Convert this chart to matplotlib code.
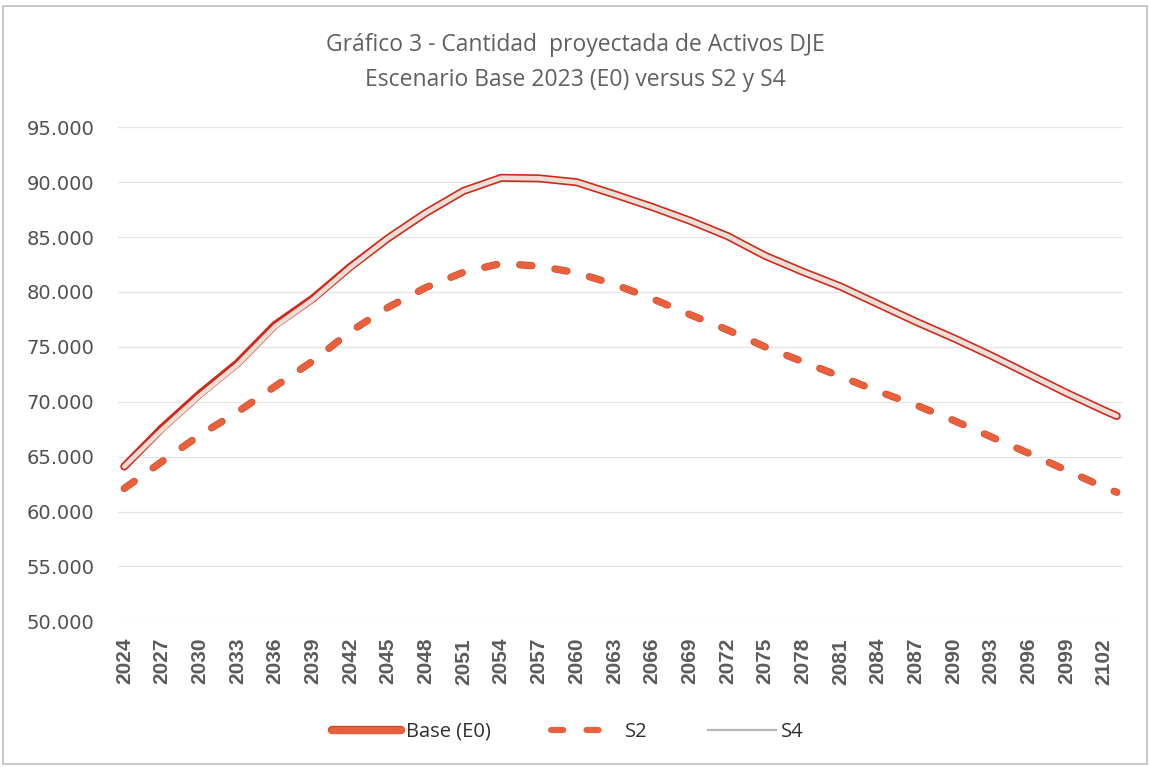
import numpy as np
import matplotlib as mpl
import matplotlib.pyplot as plt
from matplotlib.lines import Line2D
from matplotlib.patches import Rectangle
from matplotlib.ticker import FuncFormatter
import matplotlib.patheffects as pe

# values read at every labelled year, plus the final year 2103
years = list(range(2024, 2103, 3)) + [2103]
tick_years = list(range(2024, 2103, 3))

base_e0 = [64100, 67600, 70700, 73500, 77000, 79400, 82300, 84900, 87200,
           89200, 90400, 90350, 90000, 88900, 87750, 86500, 85100, 83300,
           81850, 80500, 78900, 77300, 75800, 74200, 72500, 70800, 69200, 68700]
s2 = [62100, 64550, 66950, 69050, 71400, 73700, 76400, 78600, 80400,
      81800, 82600, 82350, 81750, 80700, 79400, 77950, 76550, 75000,
      73650, 72300, 70950, 69700, 68300, 66800, 65300, 63750, 62200, 61750]
s4 = [64100, 67450, 70550, 73350, 76850, 79300, 82250, 84900, 87200,
      89200, 90400, 90350, 90000, 88900, 87750, 86500, 85100, 83300,
      81850, 80500, 78900, 77300, 75800, 74200, 72500, 70800, 69200, 68700]

title = 'Gráfico 3 - Cantidad  proyectada de Activos DJE\nEscenario Base 2023 (E0) versus S2 y S4'

fig = plt.figure(figsize=(11.5, 7.67), dpi=100)
ax = fig.add_axes([0.1026, 0.19, 0.874, 0.644])

red_edge = '#d0291b'
orange = '#e9603d'

ax.plot(years, base_e0, color=red_edge, lw=5.8, solid_capstyle='round', zorder=3)
ax.plot(years, s4, color='#eadfd6', lw=3.4, solid_capstyle='round', zorder=4)
ax.plot(years, s2, color=orange, lw=4.4, dashes=(2.0, 3.8), dash_capstyle='round',
        zorder=3, path_effects=[pe.Stroke(linewidth=5.2, foreground='#d4461f'), pe.Normal()])

ax.set_xlim(2024 - 0.5, 2103 + 0.5)
ax.set_ylim(50000, 95000)
ax.set_yticks(np.arange(50000, 95001, 5000))
ax.yaxis.set_major_formatter(FuncFormatter(lambda v, p: f'{v:,.0f}'.replace(',', '.')))
ax.set_xticks(tick_years)
ax.set_xticklabels([str(y) for y in tick_years], rotation=90,
                   family='Liberation Sans', fontweight='bold')

ax.grid(axis='y', color='#e4e4e4', lw=0.9)
ax.set_axisbelow(True)
for s in ax.spines.values():
    s.set_visible(False)
ax.tick_params(axis='y', length=0, pad=17, labelsize=14, labelcolor='#505050')
ax.tick_params(axis='x', length=0, pad=12, labelsize=15, labelcolor='#5a5a5a')

fig.text(0.5, 0.918, title, ha='center', va='center', fontsize=16.5,
         color='#606060', family='Open Sans', linespacing=1.6)

handles = [
    Line2D([], [], color=orange, lw=5, solid_capstyle='round',
           path_effects=[pe.Stroke(linewidth=6, foreground='#d4461f'), pe.Normal()]),
    Line2D([], [], color=orange, lw=4.4, dashes=(2.0, 3.8), dash_capstyle='round'),
    Line2D([], [], color='#b5b5b5', lw=1.6),
]
fig.legend(handles, ['Base (E0)', 'S2', 'S4'], loc='center', bbox_to_anchor=(0.494, 0.046),
           ncol=3, frameon=False, prop={'family': 'Open Sans', 'size': 14.5},
           handlelength=3.4, columnspacing=3.0, handletextpad=0.25, labelcolor='#303030')

fig.patches.append(Rectangle((0.003, 0.004), 0.994, 0.988, transform=fig.transFigure,
                             fill=False, edgecolor='#bdbdbd', lw=1.2))

fig.savefig('out.png', dpi=100)
